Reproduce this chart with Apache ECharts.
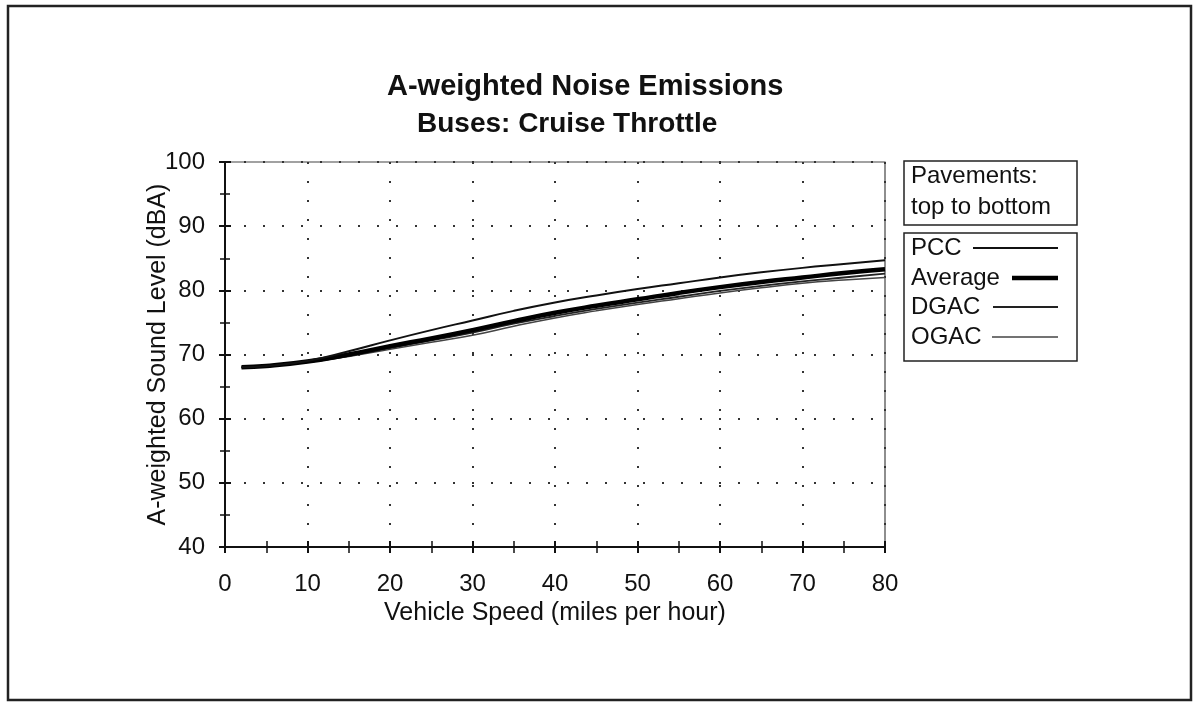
<!DOCTYPE html>
<html>
<head>
<meta charset="utf-8">
<title>A-weighted Noise Emissions</title>
<script src="https://cdn.jsdelivr.net/npm/echarts@6/dist/echarts.min.js"></script>
<style>
  html, body { margin: 0; padding: 0; background: #fff; }
  #chart { width: 1193px; height: 702px; }
</style>
</head>
<body>
<div id="chart"></div>
<script>
// speeds (mph) the curves are read at
var speeds = [2, 5, 10, 15, 20, 25, 30, 35, 40, 45, 50, 55, 60, 65, 70, 75, 80];

// sound level (dBA), top to bottom
var pcc     = [68.0, 68.2, 69.0, 70.5, 72.2, 73.8, 75.3, 76.8, 78.1, 79.2, 80.2, 81.1, 82.0, 82.8, 83.5, 84.1, 84.7];
var average = [68.0, 68.2, 68.9, 70.0, 71.3, 72.5, 73.8, 75.2, 76.5, 77.6, 78.6, 79.6, 80.5, 81.3, 82.0, 82.7, 83.3];
var dgac    = [68.0, 68.2, 68.8, 69.8, 71.0, 72.2, 73.4, 74.8, 76.0, 77.1, 78.1, 79.0, 79.9, 80.7, 81.4, 82.0, 82.6];
var ogac    = [68.0, 68.2, 68.8, 69.7, 70.8, 71.9, 73.0, 74.4, 75.7, 76.8, 77.8, 78.7, 79.6, 80.4, 81.1, 81.6, 82.0];

var seriesNames = ['PCC', 'Average', 'DGAC', 'OGAC'];
var seriesValues = [pcc, average, dgac, ogac];

var xTicks = [0, 10, 20, 30, 40, 50, 60, 70, 80];
var yTicks = [40, 50, 60, 70, 80, 90, 100];

var font = '"Liberation Sans", Arial, Helvetica, sans-serif';
var lineWidths = [2, 4.5, 1.8, 1.5];
var lineColors = ['#111', '#000', '#222', '#444'];

function fnPairs(values) {
    var out = [];
    for (var i = 0; i < speeds.length; i++) {
        out.push([speeds[i], values[i]]);
    }
    return out;
}

var myChart = echarts.init(document.getElementById('chart'));

var series = [];
for (var i = 0; i < seriesNames.length; i++) {
    series.push({
        name: seriesNames[i],
        type: 'line',
        smooth: true,
        symbol: 'none',
        data: fnPairs(seriesValues[i]),
        lineStyle: { color: lineColors[i], width: lineWidths[i] },
        z: 10 - i
    });
}

// legend boxes drawn by hand, text with a line key running to the right edge
var legendRows = [248, 278, 307, 337];
var legendKeyStart = [973, 1012, 993, 992];
var graphics = [
    { type: 'rect', shape: { x: 8, y: 6, width: 1183, height: 694 }, style: { fill: 'none', stroke: '#222', lineWidth: 2.5 } },
    { type: 'rect', shape: { x: 904, y: 161, width: 173, height: 64 }, style: { fill: '#fff', stroke: '#222', lineWidth: 1.5 } },
    { type: 'text', x: 911, y: 176, style: { text: 'Pavements:', font: '24px ' + font, fill: '#111', verticalAlign: 'middle' } },
    { type: 'text', x: 911, y: 207, style: { text: 'top to bottom', font: '24px ' + font, fill: '#111', verticalAlign: 'middle' } },
    { type: 'rect', shape: { x: 904, y: 233, width: 173, height: 128 }, style: { fill: '#fff', stroke: '#222', lineWidth: 1.5 } }
];
for (var j = 0; j < seriesNames.length; j++) {
    graphics.push({ type: 'text', x: 911, y: legendRows[j], style: { text: seriesNames[j], font: '24px ' + font, fill: '#111', verticalAlign: 'middle' } });
    graphics.push({ type: 'line', shape: { x1: legendKeyStart[j], y1: legendRows[j], x2: 1058, y2: legendRows[j] }, style: { stroke: lineColors[j], lineWidth: lineWidths[j] } });
}

var dotted = { color: '#333', width: 2, type: [2, 17] };

var option = {
    animation: false,
    backgroundColor: '#fff',
    title: [
        { text: 'A-weighted Noise Emissions', left: 382, top: 67, textStyle: { fontFamily: font, fontSize: 29, fontWeight: 'bold', color: '#111' } },
        { text: 'Buses: Cruise Throttle', left: 412, top: 105, textStyle: { fontFamily: font, fontSize: 28, fontWeight: 'bold', color: '#111' } }
    ],
    grid: { left: 225, top: 162, right: 308, bottom: 155, show: true, borderColor: '#444', borderWidth: 1.2 },
    xAxis: [
        {
            type: 'value', min: 0, max: 80, interval: 10,
            name: 'Vehicle Speed (miles per hour)', nameLocation: 'middle', nameGap: 48,
            nameTextStyle: { fontFamily: font, fontSize: 25, color: '#111' },
            axisLine: { lineStyle: { color: '#111', width: 2 } },
            axisTick: { show: true, length: 6, lineStyle: { color: '#111', width: 2 } },
            minorTick: { show: true, splitNumber: 2, length: 6, lineStyle: { color: '#111', width: 1.5 } },
            axisLabel: { fontFamily: font, fontSize: 24, color: '#111', margin: 25, customValues: xTicks },
            splitLine: { show: true, lineStyle: dotted }
        },
        {
            type: 'value', min: 0, max: 80, interval: 10, position: 'bottom',
            axisLine: { show: false },
            axisTick: { show: true, inside: true, length: 6, lineStyle: { color: '#111', width: 2 } },
            minorTick: { show: true, splitNumber: 2, length: 6, lineStyle: { color: '#111', width: 1.5 } },
            axisLabel: { show: false },
            splitLine: { show: false }
        }
    ],
    yAxis: [
        {
            type: 'value', min: 40, max: 100, interval: 10,
            name: 'A-weighted Sound Level (dBA)', nameLocation: 'middle', nameGap: 54, nameMoveOverlap: false,
            nameTextStyle: { fontFamily: font, fontSize: 25, color: '#111' },
            axisLine: { show: true, lineStyle: { color: '#111', width: 2 } },
            axisTick: { show: true, length: 6, lineStyle: { color: '#111', width: 2 } },
            minorTick: { show: true, splitNumber: 2, length: 5, lineStyle: { color: '#111', width: 1.5 } },
            axisLabel: { fontFamily: font, fontSize: 24, color: '#111', margin: 20, customValues: yTicks },
            splitLine: { show: true, lineStyle: dotted }
        },
        {
            type: 'value', min: 40, max: 100, interval: 10, position: 'left',
            axisLine: { show: false },
            axisTick: { show: true, inside: true, length: 6, lineStyle: { color: '#111', width: 2 } },
            minorTick: { show: true, splitNumber: 2, length: 5, lineStyle: { color: '#111', width: 1.5 } },
            axisLabel: { show: false },
            splitLine: { show: false }
        }
    ],
    graphic: graphics,
    series: series
};
myChart.setOption(option);
</script>
</body>
</html>
